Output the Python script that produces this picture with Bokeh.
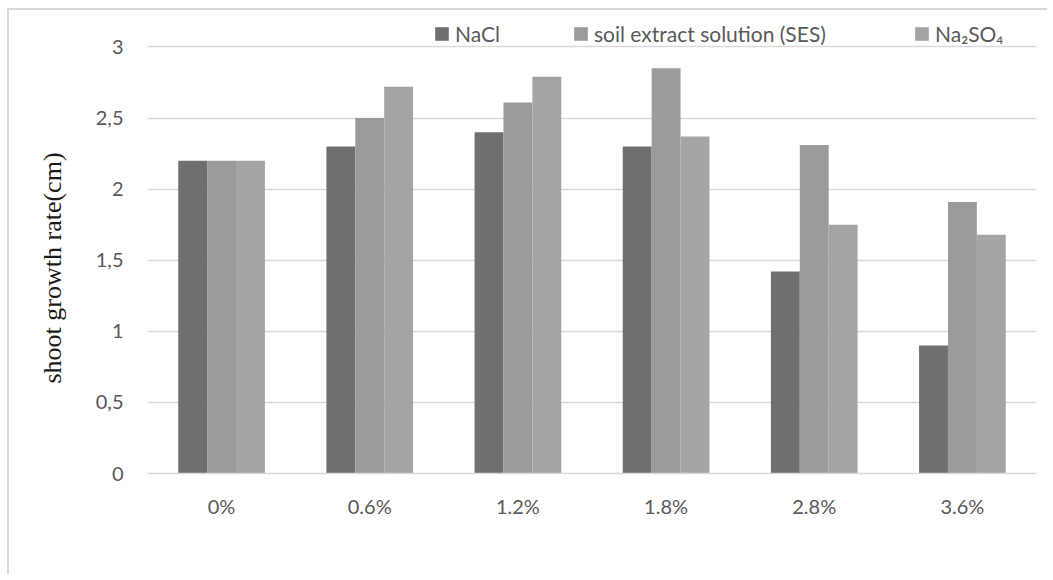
from bokeh.plotting import figure
from bokeh.models import ColumnDataSource, FactorRange, FixedTicker, Legend, LegendItem, Title
from bokeh.transform import dodge
from bokeh.embed import file_html
from bokeh.resources import INLINE

categories = ["0%", "0.6%", "1.2%", "1.8%", "2.8%", "3.6%"]
nacl = [2.2, 2.3, 2.4, 2.3, 1.42, 0.9]
ses = [2.2, 2.5, 2.61, 2.85, 2.31, 1.91]
na2so4 = [2.2, 2.72, 2.79, 2.37, 1.75, 1.68]
series_names = ["NaCl", "soil extract solution (SES)", "Na\u2082SO\u2084"]
series_colors = ["#6f6f6f", "#9b9b9b", "#a4a4a4"]
y_ticks = [0, 0.5, 1, 1.5, 2, 2.5, 3]
y_tick_labels = ["0", "0,5", "1", "1,5", "2", "2,5", "3"]
y_title = "shoot growth rate(cm)"

source = ColumnDataSource(dict(cat=categories, nacl=nacl, ses=ses, na2so4=na2so4))

p = figure(x_range=FactorRange(*categories), y_range=(0, 3.2),
           width=1040, height=566, output_backend="svg", toolbar_location=None,
           min_border_left=136, min_border_right=13, min_border_top=8, min_border_bottom=103)
p.styles = {"margin-left": "7px", "margin-top": "8px",
            "border-left": "2px solid #d9d9d9", "border-top": "2px solid #d9d9d9"}
p.outline_line_color = None
p.background_fill_color = "white"
p.border_fill_color = "white"

bw = 0.195
cols = ["nacl", "ses", "na2so4"]
offsets = [-bw, 0.0, bw]
renderers = []
for col, off, color in zip(cols, offsets, series_colors):
    r = p.vbar(x=dodge("cat", off, range=p.x_range), top=col, width=bw, source=source,
               fill_color=color, line_color=None)
    renderers.append(r)

legend_x = [286, 425, 766]
for name, r, lx in zip(series_names, renderers, legend_x):
    leg = Legend(items=[LegendItem(label=name, renderers=[r])], location=(lx, 427),
                 orientation="horizontal", border_line_color=None, background_fill_alpha=0,
                 padding=0, margin=0, glyph_width=17, glyph_height=17, label_standoff=5,
                 label_text_font="Lato", label_text_font_size="21px",
                 label_text_color="#595959", spacing=0)
    p.add_layout(leg)

p.xgrid.grid_line_color = None
p.ygrid.ticker = FixedTicker(ticks=y_ticks)
p.ygrid.grid_line_color = "#d9d9d9"
p.ygrid.grid_line_width = 1.5

p.yaxis.ticker = FixedTicker(ticks=y_ticks)
p.yaxis.major_label_overrides = {t: l for t, l in zip(y_ticks, y_tick_labels)}
p.yaxis.axis_line_color = None
p.yaxis.major_tick_line_color = None
p.yaxis.minor_tick_line_color = None
p.yaxis.major_label_standoff = 18
p.yaxis.major_label_text_font = "Lato"
p.yaxis.major_label_text_font_size = "20px"
p.yaxis.major_label_text_color = "#595959"

ytitle = Title(text=y_title, align="left", offset=90, standoff=52,
               text_font="Liberation Serif", text_font_style="normal",
               text_font_size="26px", text_color="#1a1a1a")
p.add_layout(ytitle, "left")

p.xaxis.axis_line_color = "#d9d9d9"
p.xaxis.axis_line_width = 1.5
p.xaxis.major_tick_line_color = None
p.xaxis.minor_tick_line_color = None
p.xaxis.major_label_standoff = 14
p.xaxis.major_label_text_font = "Lato"
p.xaxis.major_label_text_font_size = "20px"
p.xaxis.major_label_text_color = "#595959"

open("out.html", "w").write(file_html(p, INLINE))
